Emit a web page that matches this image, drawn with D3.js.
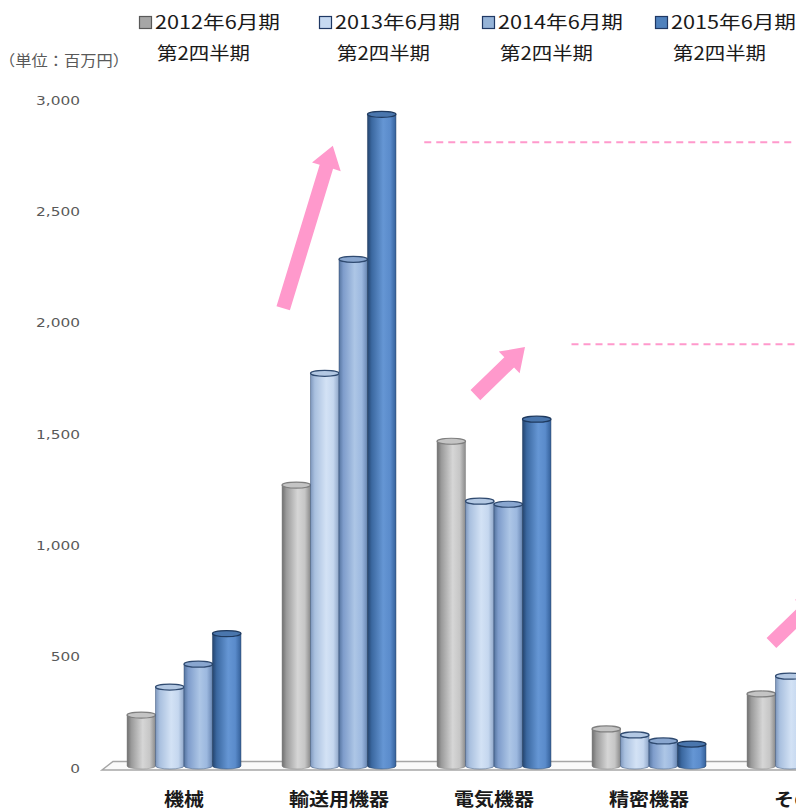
<!DOCTYPE html>
<html>
<head>
<meta http-equiv="Content-Type" content="text/html;charset=utf-8"/>
<title>業種別</title>
<script src="https://d3js.org/d3.v7.min.js"></script>
<style type="text/css">
	body { margin: 0; background: #fff; }
	svg { display: block; overflow: hidden; }
	.tick-label { font-family: "DejaVu Sans", Verdana, sans-serif; font-size: 13px; fill: #595959; }
	.jp { font-family: "Noto Sans CJK JP", sans-serif; }
</style>
</head>
<body>
<script type="text/javascript">

	//Data
	var categories = ["機械", "輸送用機器", "電気機器", "精密機器", "その他"];
	var seriesNames = ["2012年6月期", "2013年6月期", "2014年6月期", "2015年6月期"];
	var seriesSub = "第2四半期";
	var values2012 = [233, 1266, 1463, 171, 328];
	var values2013 = [359, 1768, 1194, 144, 408];
	var values2014 = [462, 2280, 1180, 117, 470];
	var values2015 = [599, 2931, 1562, 103, 620];
	var yTicks = [0, 500, 1000, 1500, 2000, 2500, 3000];

	// arrow annotations: [category, offset in steps, value] for tail and tip
	var arrows = [
		{ tail: ["輸送用機器", -0.36, 2060], tip: ["輸送用機器", -0.04, 2790] },
		{ tail: ["電気機器", -0.12, 1670], tip: ["電気機器", 0.20, 1886] },
		{ tail: ["その他", -0.21, 557], tip: ["その他", 0.11, 772] }
	];
	var dashLines = [
		{ from: ["電気機器", -0.45], value: 2806 },
		{ from: ["精密機器", -0.5], value: 1899 }
	];

	var allValues = [values2012, values2013, values2014, values2015];

	var w = 796, h = 810;

	var svg = d3.select("body").append("svg")
		.attr("width", w)
		.attr("height", h);

	//Scales
	var x = d3.scaleBand()
		.domain(categories)
		.range([106.5, 881.5])
		.paddingInner(0.265)
		.paddingOuter(0.1325);

	var xSub = d3.scaleBand()
		.domain(d3.range(seriesNames.length))
		.range([0, x.bandwidth()])
		.padding(0);

	var y = d3.scaleLinear()
		.domain([0, 3000])
		.range([767, 99]);

	var styles = [
		{ stops: ["#6f6f6f", "#9a9a9a", "#d6d6d6", "#c6c6c6", "#8a8a8a"], top: "#c4c4c4", line: "#7f7f7f", key: "#a6a6a6", keyLine: "#595959" },
		{ stops: ["#7f98bd", "#a9c0df", "#d3e2f5", "#c5d7ef", "#8ea6c9"], top: "#b3c8e3", line: "#2f4a70", key: "#c6d9f1", keyLine: "#1f3864" },
		{ stops: ["#5675a0", "#7e9ccb", "#adc6e6", "#9cb8df", "#6886b3"], top: "#89a6cf", line: "#2f4a70", key: "#95b3d7", keyLine: "#1f3864" },
		{ stops: ["#24446e", "#3b68a0", "#6596d4", "#5a8bcb", "#34609a"], top: "#4a76ad", line: "#1f3a5f", key: "#4f81bd", keyLine: "#1f3864" }
	];
	var stopOffsets = [0, 0.15, 0.55, 0.8, 1];

	var defs = svg.append("defs");
	styles.forEach(function(s, i) {
		var g = defs.append("linearGradient")
			.attr("id", "grad" + i)
			.attr("x1", 0).attr("x2", 1).attr("y1", 0).attr("y2", 0);
		s.stops.forEach(function(c, j) {
			g.append("stop").attr("offset", stopOffsets[j]).attr("stop-color", c);
		});
	});

	//Floor
	var floorY = y(0);
	svg.append("path")
		.attr("d", "M102," + (floorY + 3) + " L113," + (floorY - 5.5) + " L" + (w + 20) + "," + (floorY - 5.5) +
			" L" + (w + 20) + "," + (floorY + 3) + " Z")
		.attr("fill", "#fafafa")
		.attr("stroke", "#a6a6a6")
		.attr("stroke-width", 1.5);

	//Y tick labels
	svg.selectAll("g.ytick")
		.data(yTicks)
		.enter()
		.append("g")
		.attr("class", "ytick")
		.attr("transform", function(d) { return "translate(80," + (y(d) + 1) + ") scale(1.18,1)"; })
		.append("text")
		.attr("class", "tick-label")
		.attr("text-anchor", "end")
		.attr("dy", "0.36em")
		.text(d3.format(","));

	//Cylinders
	var ry = 3;
	var bars = [];
	categories.forEach(function(c, ci) {
		allValues.forEach(function(vals, si) {
			bars.push({ cat: c, s: si, v: vals[ci] });
		});
	});

	var bar = svg.selectAll("g.bar")
		.data(bars)
		.enter()
		.append("g")
		.attr("class", "bar");

	bar.append("path")
		.attr("d", function(d) {
			var x0 = x(d.cat) + xSub(d.s), bw = xSub.bandwidth();
			var yt = y(d.v), yb = y(0) - 1;
			return "M" + x0 + "," + yt + " L" + x0 + "," + yb +
				" A" + (bw / 2) + "," + ry + " 0 0 0 " + (x0 + bw) + "," + yb +
				" L" + (x0 + bw) + "," + yt + " Z";
		})
		.attr("fill", function(d) { return "url(#grad" + d.s + ")"; })
		.attr("stroke", function(d) { return styles[d.s].line; })
		.attr("stroke-opacity", 0.6)
		.attr("stroke-width", 0.8);

	bar.append("ellipse")
		.attr("cx", function(d) { return x(d.cat) + xSub(d.s) + xSub.bandwidth() / 2; })
		.attr("cy", function(d) { return y(d.v); })
		.attr("rx", xSub.bandwidth() / 2)
		.attr("ry", ry)
		.attr("fill", function(d) { return styles[d.s].top; })
		.attr("stroke", function(d) { return styles[d.s].line; })
		.attr("stroke-width", 1.2);

	//Category labels
	svg.selectAll("text.cat")
		.data(categories)
		.enter()
		.append("text")
		.attr("class", "cat jp")
		.attr("x", function(d) { return x(d) + x.bandwidth() / 2; })
		.attr("y", 806)
		.attr("text-anchor", "middle")
		.attr("font-size", 18)
		.attr("font-weight", "bold")
		.attr("fill", "#1a1a1a")
		.attr("textLength", function(d) { return d.length * 20; })
		.attr("lengthAdjust", "spacingAndGlyphs")
		.text(function(d) { return d; });

	//Annotations
	function pt(a) {
		return [x(a[0]) + x.bandwidth() / 2 + a[1] * x.step(), y(a[2])];
	}
	function arrowPath(p0, p1) {
		var dx = p1[0] - p0[0], dy = p1[1] - p0[1];
		var len = Math.sqrt(dx * dx + dy * dy);
		var ux = dx / len, uy = dy / len, nx = -uy, ny = ux;
		var sw = 7, hw = 15, hl = 22;
		var bx = p1[0] - ux * hl, by = p1[1] - uy * hl;
		var pts = [
			[p0[0] + nx * sw, p0[1] + ny * sw],
			[bx + nx * sw, by + ny * sw],
			[bx + nx * hw, by + ny * hw],
			p1,
			[bx - nx * hw, by - ny * hw],
			[bx - nx * sw, by - ny * sw],
			[p0[0] - nx * sw, p0[1] - ny * sw]
		];
		return "M" + pts.map(function(p) { return p[0] + "," + p[1]; }).join(" L") + " Z";
	}

	svg.selectAll("path.arrow")
		.data(arrows)
		.enter()
		.append("path")
		.attr("class", "arrow")
		.attr("d", function(d) { return arrowPath(pt(d.tail), pt(d.tip)); })
		.attr("fill", "#ff99cc");

	svg.selectAll("line.dash")
		.data(dashLines)
		.enter()
		.append("line")
		.attr("class", "dash")
		.attr("x1", function(d) { return x(d.from[0]) + x.bandwidth() / 2 + d.from[1] * x.step(); })
		.attr("x2", w + 10)
		.attr("y1", function(d) { return y(d.value); })
		.attr("y2", function(d) { return y(d.value); })
		.attr("stroke", "#ff99cc")
		.attr("stroke-width", 2)
		.attr("stroke-dasharray", "7,5");

	//Unit label
	svg.append("text")
		.attr("class", "jp")
		.attr("x", -1)
		.attr("y", 66)
		.attr("font-size", 15)
		.attr("fill", "#595959")
		.attr("textLength", 130)
		.attr("lengthAdjust", "spacingAndGlyphs")
		.text("（単位：百万円）");

	//Legend
	var legendX = [139, 319, 482, 655];
	var legend = svg.selectAll("g.legend")
		.data(seriesNames)
		.enter()
		.append("g")
		.attr("class", "legend")
		.attr("transform", function(d, i) { return "translate(" + legendX[i] + ",0)"; });

	legend.append("rect")
		.attr("x", 0.5)
		.attr("y", 16.5)
		.attr("width", 12)
		.attr("height", 12)
		.attr("fill", function(d, i) { return styles[i].key; })
		.attr("stroke", function(d, i) { return styles[i].keyLine; })
		.attr("stroke-width", 1.2);

	legend.append("text")
		.attr("class", "jp")
		.attr("x", 16)
		.attr("y", 29)
		.attr("font-size", 18)
		.attr("fill", "#1a1a1a")
		.attr("textLength", 125)
		.attr("lengthAdjust", "spacingAndGlyphs")
		.text(function(d) { return d; });

	legend.append("text")
		.attr("class", "jp")
		.attr("x", 18)
		.attr("y", 60)
		.attr("font-size", 18)
		.attr("fill", "#1a1a1a")
		.attr("textLength", 93)
		.attr("lengthAdjust", "spacingAndGlyphs")
		.text(seriesSub);

</script>
</body>
</html>
